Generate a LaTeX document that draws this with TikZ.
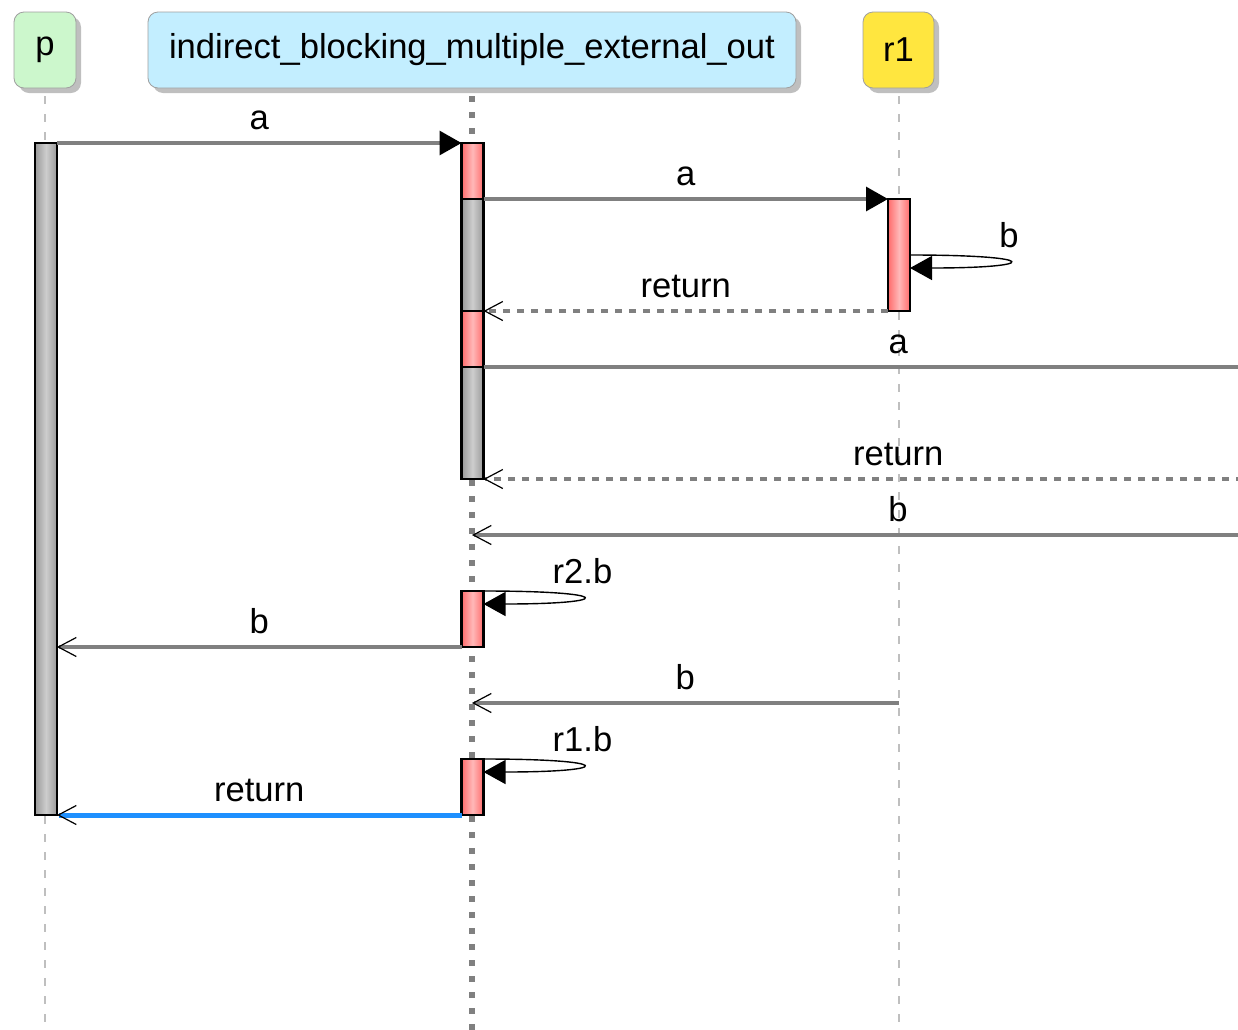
\documentclass[tikz,border=0pt]{standalone}
\usepackage{fontspec}
\setmainfont{Liberation Sans}
\usetikzlibrary{arrows.meta,shadows}
\definecolor{pgreen}{HTML}{CCF7CC}
\definecolor{mainblue}{HTML}{C3EEFF}
\definecolor{r1yellow}{HTML}{FFE63F}
\definecolor{barred}{HTML}{FF6B6B}
\definecolor{barredlight}{HTML}{FFB8B8}
\definecolor{bargray}{HTML}{999999}
\definecolor{bargraylight}{HTML}{CDCDCD}
\definecolor{msggray}{HTML}{808080}
\definecolor{retblue}{HTML}{1E90FF}
\begin{document}
\begin{tikzpicture}[x=0.5pt, y=-0.5pt,
  every node/.style={font=\fontsize{17.3}{20}\selectfont},
  head/.style={rectangle, rounded corners=5pt, draw=gray!75, minimum height=38pt, inner sep=0pt,
    drop shadow={shadow xshift=2.5pt, shadow yshift=-2.5pt, opacity=0.5, fill=gray}},
  redbar/.style={rectangle, draw=black, line width=1.1pt, minimum width=11pt, inner sep=0pt, outer sep=0pt,
    left color=barred, right color=barred, middle color=barredlight},
  graybar/.style={rectangle, draw=black, line width=1.1pt, minimum width=11pt, inner sep=0pt, outer sep=0pt,
    left color=bargray, right color=bargray, middle color=bargraylight},
  life/.style={draw=gray!50, line width=1pt, dash pattern=on 4pt off 5pt, shorten <=4pt},
  mainlife/.style={draw=msggray, line width=3pt, dash pattern=on 3pt off 5pt, shorten <=4pt},
  msg/.style={draw=msggray, line width=1.6pt, -{Triangle[color=black, length=11pt, width=12pt]}},
  ret/.style={draw=msggray, line width=1.8pt, dash pattern=on 3.5pt off 3.5pt,
    -{Straight Barb[color=black, length=9pt, width=9.5pt, line width=0.6pt]}},
  reply/.style={draw=msggray, line width=1.6pt,
    -{Straight Barb[color=black, length=9pt, width=9.5pt, line width=0.6pt]}},
  selfmsg/.style={draw=black, line width=0.7pt, -{Triangle[length=11pt, width=12pt]}},
  lbl/.style={midway, anchor=base, yshift=7pt, inner sep=0pt}]
  \useasboundingbox (0,0) rectangle (1238,1029);
  \clip (0,0) rectangle (1238,1029);
  % Nodes
  \node (p) [head, fill=pgreen, minimum width=31pt] at (45,50) {p};
  \node (main) [head, fill=mainblue, minimum width=324pt] at (472,50) {indirect\_blocking\_multiple\_external\_out};
  \node (r1) [head, fill=r1yellow, minimum width=35.5pt] at (898.5,50) {r1};
  % Lifelines
  \draw[life] (p.south) -- (p.south |- 0,1040);
  \draw[mainlife] (main.south) -- (main.south |- 0,1040);
  \draw[life] (r1.south) -- (r1.south |- 0,1040);
  % Activations
  \node (pbar) [graybar, minimum height=336pt] at (46,479) {};
  \node (ma1) [redbar, minimum height=28pt] at (472.5,171) {};
  \node (mg1) [graybar, minimum height=56pt] at (472.5,255) {};
  \node (mr2) [redbar, minimum height=28pt] at (472.5,339) {};
  \node (mg2) [graybar, minimum height=56pt] at (472.5,423) {};
  \node (mr3) [redbar, minimum height=28pt] at (472.5,619) {};
  \node (mr4) [redbar, minimum height=28pt] at (472.5,787) {};
  \node (r1a) [redbar, minimum height=56pt] at (899,255) {};
  \coordinate (ext1) at (1313,367);
  \coordinate (ext2) at (1313,479);
  \coordinate (ext3) at (1324,535);
  \coordinate (r1b) at (r1.south |- 0,703);
  % Arrow
  \draw[msg] (pbar.north east) -- (ma1.north west) node[lbl] {a};
  \draw[msg] (ma1.south east) -- (r1a.north west) node[lbl] {a};
  \draw[selfmsg] (r1a.east) to[out=0, in=0, distance=66pt] node[lbl] {b} ++(0,13);
  \draw[ret] (r1a.south west) -- (mg1.south east) node[lbl] {return};
  \draw[msg] (mr2.south east) -- (ext1) node[lbl] {a};
  \draw[ret] (ext2) -- (mg2.south east) node[lbl] {return};
  \draw[reply] (ext3) -- (main.south |- ext3) node[lbl] {b};
  \draw[selfmsg] (mr3.north east) to[out=0, in=0, distance=66pt] node[lbl] {r2.b} ++(0,13);
  \draw[reply] (mr3.south west) -- (mr3.south west -| pbar.east) node[lbl] {b};
  \draw[reply] (r1b) -- (main.south |- r1b) node[lbl] {b};
  \draw[selfmsg] (mr4.north east) to[out=0, in=0, distance=66pt] node[lbl] {r1.b} ++(0,13);
  \draw[reply, draw=retblue, line width=2.5pt] (mr4.south west) -- (mr4.south west -| pbar.east) node[lbl] {return};
\end{tikzpicture}
\end{document}
